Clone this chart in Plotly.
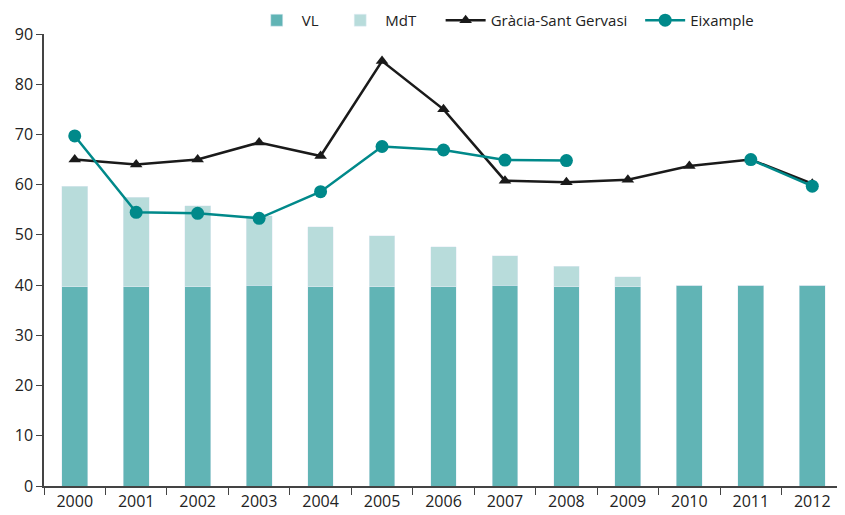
import plotly.graph_objects as go

years = ["2000", "2001", "2002", "2003", "2004", "2005", "2006", "2007", "2008", "2009", "2010", "2011", "2012"]
vl = [39.7, 39.7, 39.7, 40, 39.7, 39.7, 39.7, 40, 39.7, 39.7, 40, 40, 40]
mdt_total = [59.7, 57.5, 55.8, 53.8, 51.6, 49.8, 47.6, 45.8, 43.8, 41.7, 40, 40, 40]
mdt = [round(t - v, 2) for t, v in zip(mdt_total, vl)]
gracia = [65.0, 64.0, 65.0, 68.4, 65.7, 84.6, 75.0, 60.8, 60.5, 61.0, 63.7, 65.0, 60.2]
eixample = [69.7, 54.5, 54.3, 53.3, 58.6, 67.6, 66.9, 64.9, 64.8, None, None, 65.0, 59.7]

font_family = "Open Sans, Noto Sans, sans-serif"
pad = "\u00a0"

fig = go.Figure()
fig.add_trace(go.Bar(x=years, y=vl, name="VL" + pad * 3, marker_color="#61b4b5", width=0.42))
fig.add_trace(go.Bar(x=years, y=mdt, name="MdT" + pad * 5, marker_color="#b8dcdb", width=0.42))
fig.add_trace(go.Scatter(x=years, y=gracia, name="Gràcia-Sant Gervasi" + pad * 2, mode="lines+markers",
                         line=dict(color="#1a1a1a", width=2.5),
                         marker=dict(symbol="triangle-up", size=11, color="#1a1a1a")))
fig.add_trace(go.Scatter(x=years, y=eixample, name="Eixample", mode="lines+markers",
                         connectgaps=False,
                         line=dict(color="#00898a", width=2.5),
                         marker=dict(symbol="circle", size=13, color="#00898a")))

fig.update_layout(
    width=837, height=507,
    barmode="stack",
    plot_bgcolor="white", paper_bgcolor="white",
    margin=dict(l=36, r=2, t=26, b=29, autoexpand=False),
    font=dict(family=font_family, size=15, color="#222222"),
    legend=dict(orientation="h", x=0.26, xanchor="left", y=1.03, yanchor="middle",
                font=dict(size=15), traceorder="normal", itemwidth=40,
                bgcolor="rgba(0,0,0,0)"),
    xaxis=dict(type="category", range=[-0.5, 12.5], showline=True, linecolor="#444444", linewidth=1.5,
               ticks="outside", tickson="boundaries", ticklen=7, tickcolor="#444444",
               showgrid=False, tickfont=dict(size=16), automargin=False),
    yaxis=dict(range=[0, 90], dtick=10, showline=True, linecolor="#444444", linewidth=1.5,
               ticks="outside", ticklen=6, tickcolor="#444444", showgrid=False,
               zeroline=False, tickfont=dict(size=16), automargin=False),
)

fig.write_html("out.html")
